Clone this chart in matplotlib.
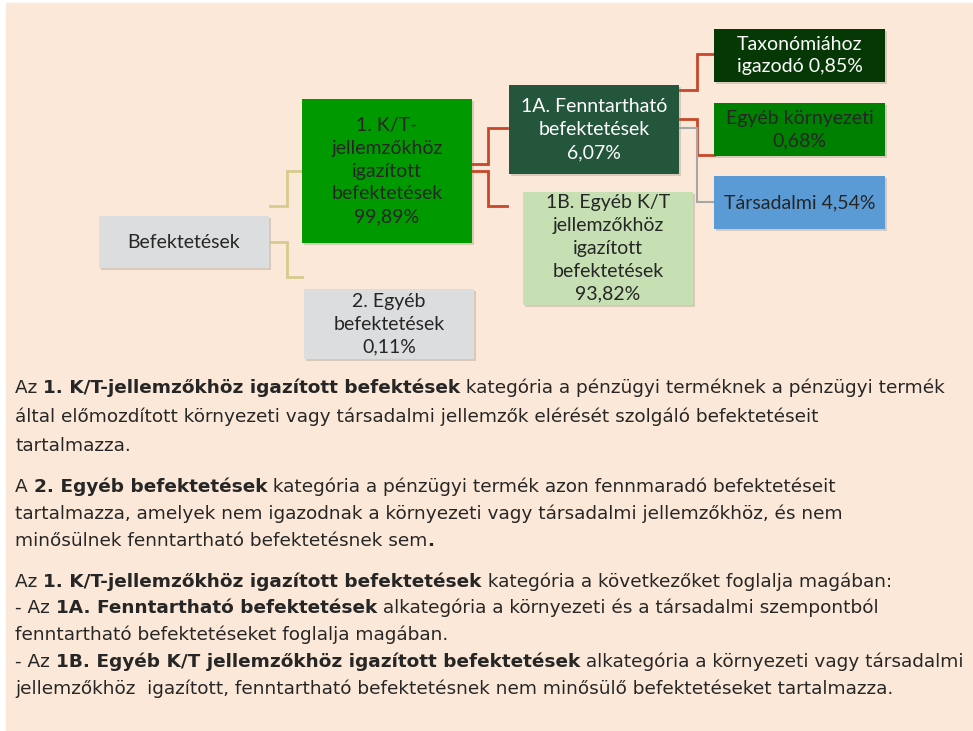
import matplotlib
matplotlib.use("Agg")
import matplotlib.pyplot as plt
from matplotlib.patches import Rectangle

# tree data
labels = ["Befektetések",
          "1. K/T-\njellemzőkhöz\nigazított\nbefektetések",
          "2. Egyéb\nbefektetések",
          "1A. Fenntartható\nbefektetések",
          "1B. Egyéb K/T\njellemzőkhöz\nigazított\nbefektetések",
          "Taxonómiához\nigazodó",
          "Egyéb környezeti",
          "Társadalmi"]
shares = [None, "99,89%", "0,11%", "6,07%", "93,82%", "0,85%", "0,68%", "4,54%"]
share_sep = ["", "\n", "\n", "\n", "\n", " ", "\n", " "]

# layout (pixel boxes: x0, y0, x1, y1)
boxes = [(99, 216, 269, 268), (302, 99, 472, 243), (304, 289, 474, 359),
         (509, 85, 679, 174), (523, 192, 693, 305), (714, 29, 885, 82),
         (714, 103, 885, 156), (714, 176, 885, 229)]
fills = ["#DCDDDF", "#009900", "#DCDDDF", "#23563A", "#C6E0B4", "#063806", "#008000", "#5B9BD5"]
tcols = ["#262626", "#262626", "#262626", "white", "#262626", "white", "#262626", "#262626"]

W, H = 973, 731
fig = plt.figure(figsize=(W / 100, H / 100), dpi=100)
fig.patch.set_facecolor("white")
ax = fig.add_axes([0, 0, 1, 1])
ax.set_xlim(0, W)
ax.set_ylim(H, 0)
ax.axis("off")
ax.add_patch(Rectangle((6, 3), W, H, color="#FBE8D8", zorder=0))

boxfont = ["Lato", "DejaVu Sans"]
for i, (x0, y0, x1, y1) in enumerate(boxes):
    ax.add_patch(Rectangle((x0 + 2, y0 + 2), x1 - x0, y1 - y0, color="#00000022", lw=0, zorder=1))
    ax.add_patch(Rectangle((x0, y0), x1 - x0, y1 - y0, color=fills[i], lw=0, zorder=2))
    txt = labels[i] if shares[i] is None else labels[i] + share_sep[i] + shares[i]
    ax.text((x0 + x1) / 2, (y0 + y1) / 2, txt, ha="center", va="center",
            color=tcols[i], fontsize=14, family=boxfont, linespacing=1.42, zorder=3)

# connectors
def elbow(xa, ya, xm, yb, xb, color, lw=2):
    ax.plot([xa, xm, xm, xb], [ya, ya, yb, yb], color=color, lw=lw, zorder=1.5,
            solid_joinstyle="miter")

tan = "#D6CB8E"
red = "#C8472A"
elbow(270, 206, 287, 171, 302, tan)
elbow(270, 242, 287, 277, 302, tan)
elbow(472, 164, 488, 128, 507, red)
elbow(472, 171, 488, 206, 507, red)
elbow(680, 90, 697, 54, 714, red)
elbow(680, 119, 697, 155, 714, red)
elbow(680, 128, 697, 202, 714, "#A6A6A6", lw=1.5)

# explanatory text
para_lines = [
    [("Az ", False), ("1. K/T-jellemzőkhöz igazított befektések", True),
     (" kategória a pénzügyi terméknek a pénzügyi termék", False)],
    [("által előmozdított környezeti vagy társadalmi jellemzők elérését szolgáló befektetéseit", False)],
    [("tartalmazza.", False)],
    [("A ", False), ("2. Egyéb befektetések", True),
     (" kategória a pénzügyi termék azon fennmaradó befektetéseit", False)],
    [("tartalmazza, amelyek nem igazodnak a környezeti vagy társadalmi jellemzőkhöz, és nem", False)],
    [("minősülnek fenntartható befektetésnek sem", False), (".", True)],
    [("Az ", False), ("1. K/T-jellemzőkhöz igazított befektetések", True),
     (" kategória a következőket foglalja magában:", False)],
    [("- Az ", False), ("1A. Fenntartható befektetések", True),
     (" alkategória a környezeti és a társadalmi szempontból", False)],
    [("fenntartható befektetéseket foglalja magában.", False)],
    [("- Az ", False), ("1B. Egyéb K/T jellemzőkhöz igazított befektetések", True),
     (" alkategória a környezeti vagy társadalmi", False)],
    [("jellemzőkhöz  igazított, fenntartható befektetésnek nem minősülő befektetéseket tartalmazza.", False)],
]
line_y = [388, 417, 446, 487, 514, 541, 582, 608, 635, 662, 689]

renderer = fig.canvas.get_renderer()
for segs, y in zip(para_lines, line_y):
    x = 15
    for s, b in segs:
        t = ax.text(x, y, s, ha="left", va="center", fontsize=13.3, family="DejaVu Sans",
                    fontweight="bold" if b else "normal", color="#262626")
        bb = t.get_window_extent(renderer=renderer)
        x = x + bb.width

fig.savefig("out.png", dpi=100)
